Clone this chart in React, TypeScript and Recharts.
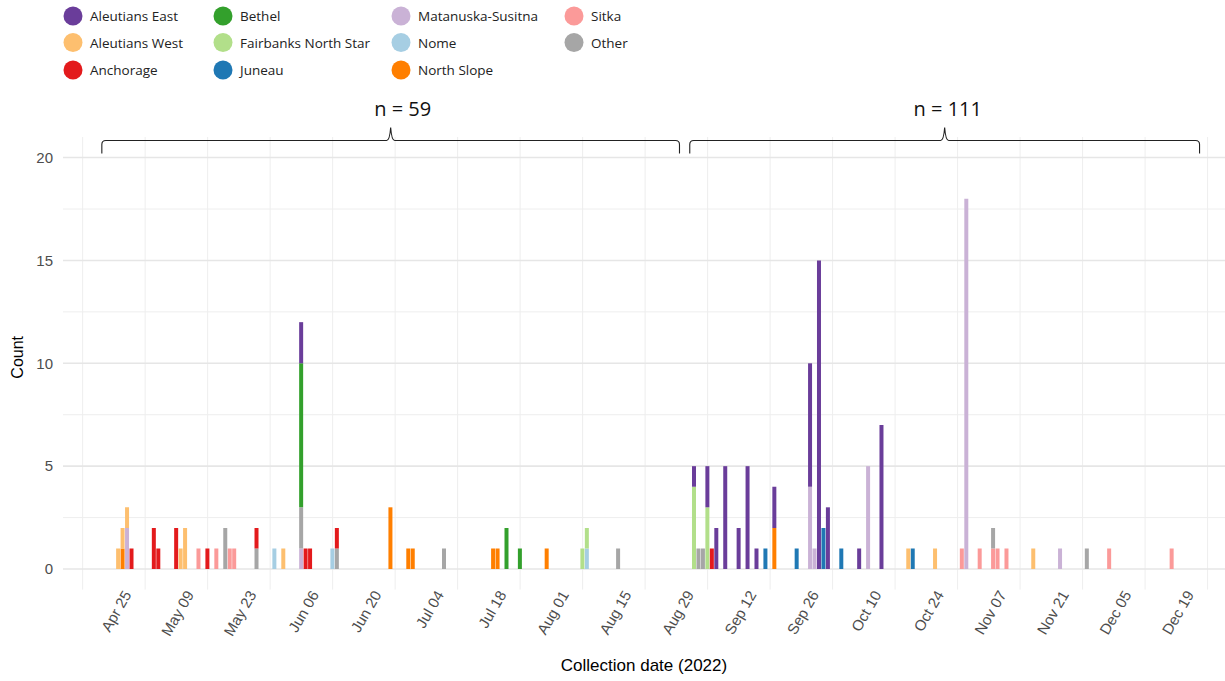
import React from 'react';
import { BarChart, Bar, XAxis, YAxis, CartesianGrid, ReferenceLine } from 'recharts';

// [day, count] — day counted from 2022-04-25 (first labelled tick)
const aleutiansEast: [number, number][] = [
  [42, 2], [130, 1], [133, 2], [135, 2], [137, 5], [140, 2], [142, 5], [144, 1],
  [148, 2], [156, 6], [158, 15], [160, 3], [167, 1], [172, 7],
];
const aleutiansWest: [number, number][] = [
  [1, 1], [2, 1], [3, 1], [15, 1], [16, 2], [38, 1], [178, 1], [184, 1], [206, 1],
];
const anchorage: [number, number][] = [
  [4, 1], [9, 2], [10, 1], [14, 2], [21, 1], [32, 1], [43, 1], [44, 1], [50, 1], [134, 1],
];
const bethel: [number, number][] = [[42, 7], [88, 2], [91, 1]];
const fairbanks: [number, number][] = [[105, 1], [106, 1], [130, 4], [133, 3]];
const juneau: [number, number][] = [[146, 1], [153, 1], [159, 2], [163, 1], [179, 1]];
const matanuska: [number, number][] = [
  [3, 2], [42, 1], [156, 4], [157, 1], [169, 5], [191, 18], [212, 1],
];
const nome: [number, number][] = [[36, 1], [49, 1], [106, 1]];
const northSlope: [number, number][] = [
  [2, 1], [62, 3], [66, 1], [67, 1], [85, 1], [86, 1], [97, 1], [148, 2],
];
const sitka: [number, number][] = [
  [19, 1], [23, 1], [26, 1], [27, 1], [190, 1], [194, 1], [197, 1], [198, 1],
  [200, 1], [223, 1], [237, 1],
];
const other: [number, number][] = [
  [25, 2], [32, 1], [42, 2], [50, 1], [74, 1], [113, 1], [131, 1], [132, 1], [197, 1], [218, 1],
];

const tickDays = [0, 14, 28, 42, 56, 70, 84, 98, 112, 126, 140, 154, 168, 182, 196, 210, 224, 238];
const tickLabels = [
  'Apr 25', 'May 09', 'May 23', 'Jun 06', 'Jun 20', 'Jul 04', 'Jul 18', 'Aug 01', 'Aug 15',
  'Aug 29', 'Sep 12', 'Sep 26', 'Oct 10', 'Oct 24', 'Nov 07', 'Nov 21', 'Dec 05', 'Dec 19',
];
const yTicks = [0, 5, 10, 15, 20];

// sample-size brackets above the bars
const groupLabels = ['n = 59', 'n = 111'];
const groupStart = [-2.7, 129];
const groupEnd = [126.7, 243.2];
const groupLabelDay = [64.7, 186.8];

// stacking order, bottom -> top
const regions = [
  { name: 'Sitka', color: '#fb9a99', data: sitka },
  { name: 'Matanuska-Susitna', color: '#cab2d6', data: matanuska },
  { name: 'Nome', color: '#a6cee3', data: nome },
  { name: 'North Slope', color: '#ff7f00', data: northSlope },
  { name: 'Other', color: '#a6a6a6', data: other },
  { name: 'Juneau', color: '#1f78b4', data: juneau },
  { name: 'Fairbanks North Star', color: '#b2df8a', data: fairbanks },
  { name: 'Bethel', color: '#33a02c', data: bethel },
  { name: 'Anchorage', color: '#e31a1c', data: anchorage },
  { name: 'Aleutians West', color: '#fdbf6f', data: aleutiansWest },
  { name: 'Aleutians East', color: '#6a3d9a', data: aleutiansEast },
];

const legendColumns = [
  ['Aleutians East', 'Aleutians West', 'Anchorage'],
  ['Bethel', 'Fairbanks North Star', 'Juneau'],
  ['Matanuska-Susitna', 'Nome', 'North Slope'],
  ['Sitka', 'Other'],
];

const days = Array.from(new Set(regions.flatMap(r => r.data.map(p => p[0])))).sort((a, b) => a - b);
const table = days.map(day => {
  const row: Record<string, number> = { day };
  regions.forEach(r => {
    const hit = r.data.find(p => p[0] === day);
    if (hit) row[r.name] = hit[1];
  });
  return row;
});

// light grid halfway between the date labels
const gridDays = [...tickDays.map(d => d - 7), 245];

const AXIS_FONT = '"Liberation Sans", Arial, sans-serif';
const LABEL_FONT = '"Open Sans", sans-serif';

const DateTick = (props: any) => {
  const { x, y, payload } = props;
  const label = tickLabels[tickDays.indexOf(payload.value)];
  const ax = x + 18;
  const ay = y + 5;
  return (
    <text x={ax} y={ay} transform={`rotate(-60 ${ax} ${ay})`} textAnchor="end"
      fill="#4d4d4d" fontSize={15} fontFamily={AXIS_FONT}>
      {label}
    </text>
  );
};

const CountLabel = (props: any) => {
  const vb = props.viewBox;
  const cx = 18;
  const cy = vb.y + vb.height / 2 - 6;
  return (
    <text x={cx} y={cy} transform={`rotate(-90 ${cx} ${cy})`} textAnchor="middle"
      dominantBaseline="central" fill="#000" fontSize={16} fontFamily={AXIS_FONT}>
      Count
    </text>
  );
};

const DateTitle = (props: any) => {
  const vb = props.viewBox;
  return (
    <text x={vb.x + vb.width / 2} y={vb.y + vb.height - 16} textAnchor="middle"
      dominantBaseline="central" fill="#000" fontSize={17} fontFamily={AXIS_FONT}>
      Collection date (2022)
    </text>
  );
};

const Bracket = (props: any) => {
  const { x1, x2, y1, label, labelFrac } = props;
  const y = y1;
  const mid = (x1 + x2) / 2;
  const d = [
    `M${x1},${y + 13}`,
    `L${x1},${y + 4}`,
    `Q${x1},${y} ${x1 + 4},${y}`,
    `L${mid - 4},${y}`,
    `Q${mid - 1},${y} ${mid},${y - 13}`,
    `Q${mid + 1},${y} ${mid + 4},${y}`,
    `L${x2 - 4},${y}`,
    `Q${x2},${y} ${x2},${y + 4}`,
    `L${x2},${y + 13}`,
  ].join(' ');
  const lx = x1 + labelFrac * (x2 - x1);
  return (
    <g>
      <path d={d} fill="none" stroke="#222" strokeWidth={1.1} />
      <text x={lx} y={y - 24} textAnchor="middle" fill="#111" fontSize={20} fontFamily={LABEL_FONT}>
        {label}
      </text>
    </g>
  );
};

const legendColX = [73, 223, 401, 574];
const legendRowY = [16, 42.5, 70];

const Legend = () => (
  <svg width={700} height={85} style={{ position: 'absolute', left: 0, top: 0 }}>
    {legendColumns.map((col, c) =>
      col.map((name, r) => {
        const reg = regions.find(g => g.name === name)!;
        return (
          <g key={name}>
            <circle cx={legendColX[c]} cy={legendRowY[r]} r={9.5} fill={reg.color} />
            <text x={legendColX[c] + 17} y={legendRowY[r]} dominantBaseline="central"
              fontSize={13.5} fill="#222" fontFamily={LABEL_FONT}>
              {name}
            </text>
          </g>
        );
      })
    )}
  </svg>
);

export default function App() {
  return (
    <div style={{ position: 'absolute', left: 0, top: 0, width: 1225, height: 681, background: '#fff' }}>
      <BarChart width={1225} height={681} data={table}
        margin={{ top: 137, right: 0, bottom: 0, left: 0 }} barSize={4}>
        <CartesianGrid horizontalValues={[2.5, 7.5, 12.5, 17.5]} verticalValues={gridDays}
          stroke="#eeeeee" strokeWidth={1} />
        <CartesianGrid horizontalValues={yTicks} vertical={false} stroke="#e6e6e6" strokeWidth={1.6} />
        <XAxis type="number" dataKey="day" domain={[-11.4, 248.9]} ticks={tickDays} interval={0}
          tick={<DateTick />} tickLine={false} axisLine={false} tickSize={0} tickMargin={0}
          height={91.4} allowDataOverflow label={<DateTitle />} />
        <YAxis type="number" domain={[-1, 21]} ticks={yTicks} width={63} tickLine={false}
          axisLine={false} tickSize={6} tickMargin={4} allowDataOverflow
          tick={{ fill: '#4d4d4d', fontSize: 15, fontFamily: AXIS_FONT }} label={<CountLabel />} />
        {regions.map(r => (
          <Bar key={r.name} dataKey={r.name} stackId="a" fill={r.color} isAnimationActive={false} />
        ))}
        {groupLabels.map((label, i) => (
          <ReferenceLine key={label}
            segment={[{ x: groupStart[i], y: 20.83 }, { x: groupEnd[i], y: 20.83 }]}
            shape={(p: any) => (
              <Bracket {...p} label={label}
                labelFrac={(groupLabelDay[i] - groupStart[i]) / (groupEnd[i] - groupStart[i])} />
            )}
          />
        ))}
      </BarChart>
      <Legend />
    </div>
  );
}
